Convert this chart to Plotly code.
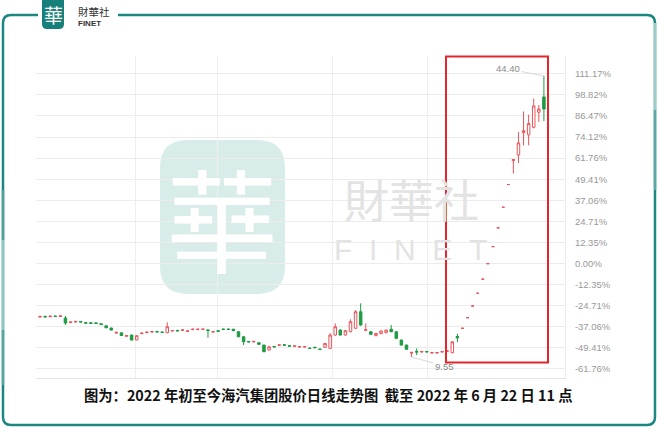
import plotly.graph_objects as go

# ---------------- data ----------------
day_index = list(range(100))
open_ = [14.51, 14.60, 14.55, 14.64, 14.58, 14.39, 13.82, 13.89, 13.97, 13.82,
         13.80, 13.79, 13.68, 13.42, 13.15, 12.52, 12.55, 12.12, 12.28, 11.68,
         12.45, 12.58, 12.65, 12.73, 12.66, 12.57, 12.78, 12.86, 12.86, 12.74,
         12.95, 12.95, 12.96, 12.92, 12.65, 12.82, 13.03, 13.03, 13.00, 12.69,
         12.07, 11.49, 11.43, 11.33, 11.04, 10.42, 10.87, 11.00, 11.08, 10.96,
         10.88, 10.79, 10.79, 10.67, 10.77, 10.55, 10.76, 10.63, 12.28, 12.90,
         12.28, 12.69, 13.12, 15.17, 12.86, 12.69, 12.20, 12.45, 12.57, 12.99,
         12.69, 11.66, 11.04, 10.05, 10.25, 10.17, 10.25, 10.05, 10.05, 10.17,
         10.26, 10.09, 12.10, 13.12, 14.43, 15.88, 17.46, 19.21, 21.13, 23.24,
         25.57, 28.12, 30.94, 33.90, 34.60, 37.37, 37.10, 38.04, 39.90, 41.80]
high = [14.62, 14.64, 14.66, 14.68, 14.70, 14.64, 13.94, 14.00, 14.02, 13.88,
        13.85, 13.84, 13.72, 13.48, 13.20, 12.66, 12.60, 12.26, 12.32, 12.24,
        12.56, 12.68, 12.75, 12.77, 12.70, 13.86, 12.88, 12.90, 12.96, 12.84,
        13.05, 13.05, 13.06, 12.98, 12.75, 12.86, 13.07, 13.07, 13.05, 12.75,
        12.12, 11.54, 11.53, 11.38, 11.08, 10.88, 10.91, 11.10, 11.12, 11.00,
        10.98, 10.89, 10.89, 10.71, 10.81, 10.59, 11.30, 12.53, 13.73, 13.00,
        12.88, 14.23, 15.38, 16.21, 13.73, 12.75, 12.55, 12.84, 12.95, 13.52,
        12.74, 11.71, 11.09, 10.17, 10.63, 10.29, 10.29, 10.15, 10.15, 10.27,
        10.36, 11.45, 12.45, 13.12, 14.43, 15.88, 17.46, 19.21, 21.13, 23.24,
        25.57, 28.12, 30.94, 34.03, 37.43, 40.00, 39.60, 41.60, 40.80, 44.40]
low = [14.46, 14.48, 14.50, 14.55, 14.54, 13.52, 13.78, 13.85, 13.86, 13.72,
       13.70, 13.68, 13.55, 13.14, 12.86, 12.48, 12.18, 12.08, 11.62, 11.64,
       12.40, 12.54, 12.61, 12.63, 12.56, 12.52, 12.74, 12.76, 12.82, 12.70,
       12.91, 12.91, 12.92, 11.95, 12.61, 12.72, 12.93, 12.93, 12.78, 12.02,
       11.04, 11.40, 11.39, 11.08, 10.18, 10.38, 10.77, 10.96, 10.98, 10.86,
       10.84, 10.75, 10.75, 10.57, 10.67, 10.45, 10.72, 10.60, 12.20, 12.22,
       12.22, 12.62, 13.05, 13.45, 12.82, 12.32, 12.15, 12.40, 12.52, 12.64,
       11.82, 10.98, 10.46, 9.55, 9.80, 10.13, 10.15, 10.01, 10.01, 10.13,
       10.22, 10.05, 11.40, 13.12, 14.43, 15.88, 17.46, 19.21, 21.13, 23.24,
       25.57, 28.12, 30.94, 32.30, 33.60, 35.80, 35.80, 37.90, 38.70, 38.80]
close = [14.59, 14.53, 14.62, 14.58, 14.66, 13.77, 13.90, 13.97, 13.90, 13.75,
         13.73, 13.71, 13.58, 13.18, 12.90, 12.62, 12.22, 12.22, 11.66, 12.20,
         12.52, 12.64, 12.71, 12.67, 12.60, 13.31, 12.84, 12.80, 12.92, 12.80,
         13.01, 13.01, 13.02, 12.84, 12.71, 12.76, 12.97, 12.97, 12.82, 12.07,
         11.45, 11.43, 11.49, 11.13, 10.21, 10.83, 10.81, 11.06, 11.02, 10.90,
         10.94, 10.85, 10.85, 10.61, 10.71, 10.49, 11.25, 12.28, 13.31, 12.28,
         12.82, 13.93, 15.17, 13.52, 12.94, 12.37, 12.49, 12.78, 12.90, 12.69,
         11.87, 11.04, 10.51, 10.13, 10.17, 10.25, 10.19, 10.11, 10.11, 10.23,
         10.32, 11.45, 11.93, 13.12, 14.43, 15.88, 17.46, 19.21, 21.13, 23.24,
         25.57, 28.12, 30.94, 34.03, 36.10, 37.62, 38.50, 40.68, 40.30, 40.30]
base_price = 21.15
pct_ticks = [111.17, 98.82, 86.47, 74.12, 61.76, 49.41, 37.06, 24.71, 12.35,
             0.00, -12.35, -24.71, -37.06, -49.41, -61.76]
pct_labels = [f"{p:.2f}%" for p in pct_ticks]
month_lines = [18.7, 34.8, 57.4, 76.2]
high_idx, high_val = 99, 44.40
low_idx, low_val = 73, 9.55
caption = "图为：2022 年初至今海汽集团股价日线走势图  截至 2022 年 6 月 22 日 11 点"

# ---------------- layout helpers (pixel -> paper) ----------------
W, H = 660, 437
PL, PR, PT, PB = 36, 565, 56, 378


def X(px):
    return (px - PL) / (PR - PL)


def Y(py):
    return (PB - py) / (PB - PT)


def P(px, py):
    return f"{X(px):.5f},{Y(py):.5f}"


def rrect(x0, y0, x1, y1, r):
    return (f"M{P(x0 + r, y0)} L{P(x1 - r, y0)} Q{P(x1, y0)} {P(x1, y0 + r)} "
            f"L{P(x1, y1 - r)} Q{P(x1, y1)} {P(x1 - r, y1)} L{P(x0 + r, y1)} "
            f"Q{P(x0, y1)} {P(x0, y1 - r)} L{P(x0, y0 + r)} Q{P(x0, y0)} {P(x0 + r, y0)} Z")


RED = "#e8555b"
GREEN = "#1f9a45"
TEAL = "#1c8680"

fig = go.Figure()
fig.add_trace(go.Candlestick(
    x=day_index, open=open_, high=high, low=low, close=close,
    increasing=dict(line=dict(color=RED, width=1), fillcolor="#ffffff"),
    decreasing=dict(line=dict(color=GREEN, width=1), fillcolor=GREEN),
    whiskerwidth=0, hoverinfo="skip", showlegend=False,
))

ymin = base_price + (base_price * 0.1235 / 21.07) * (263.5 - PB)
ymax = base_price + (base_price * 0.1235 / 21.07) * (263.5 - PT)
xmin = (PL - 40) / 5.09
xmax = (PR - 40) / 5.09

shapes = []
# watermark blob
shapes.append(dict(type="path", xref="paper", yref="paper", path=rrect(160, 140, 285, 294, 28),
                   fillcolor="#d8ecea", line=dict(width=0), layer="below"))
# header logo
shapes.append(dict(type="path", xref="paper", yref="paper", path=rrect(42, -4, 64, 29, 5),
                   fillcolor="#17807a", line=dict(width=0), layer="above"))
# frame
frame = (f"M{P(38, 15)} L{P(11, 15)} Q{P(3, 15)} {P(3, 23)} L{P(3, 417)} Q{P(3, 425)} {P(11, 425)} "
         f"L{P(647, 425)} Q{P(655, 425)} {P(655, 417)} L{P(655, 23)} Q{P(655, 15)} {P(647, 15)} L{P(118, 15)}")
shapes.append(dict(type="path", xref="paper", yref="paper", path=frame,
                   line=dict(color=TEAL, width=2.5), layer="above"))
# gradient imitation on side lines
for (xx, ya, yb, col) in [(3, 190, 240, "#4f9f9b"), (3, 240, 330, "#8fc6c2"), (3, 330, 385, "#58a5a1"),
                          (655, 23, 110, "#9ccbc8"), (655, 110, 190, "#5ea8a4")]:
    shapes.append(dict(type="line", xref="paper", yref="paper", x0=X(xx), x1=X(xx), y0=Y(ya), y1=Y(yb),
                       line=dict(color=col, width=2.5), layer="above"))
# red highlight box
shapes.append(dict(type="rect", xref="paper", yref="paper", x0=X(446), x1=X(548), y0=Y(362.5), y1=Y(56.5),
                   line=dict(color="#e3262b", width=2), fillcolor="rgba(0,0,0,0)", layer="above"))


def note(text, px, py, size, color, family="Noto Sans CJK TC", xanchor="center"):
    return dict(text=text, xref="paper", yref="paper", x=X(px), y=Y(py), showarrow=False,
                xanchor=xanchor, yanchor="middle", font=dict(family=family, size=size, color=color))


ann = []
# watermark texts
ann.append(note("華", 222, 216, 112, "#ffffff"))
ann.append(note("財華社", 411, 198, 45, "#e3e3e3"))
ann.append(note("F\u00a0\u00a0I\u00a0\u00a0N\u00a0\u00a0E\u00a0\u00a0T", 410, 249, 30, "#e3e3e3",
                family="Liberation Sans"))
# header
ann.append(note("華", 53, 14, 19, "#ffffff"))
ann.append(note("財華社", 76, 11.5, 10.5, "#333333", xanchor="left"))
ann.append(note("<b>FINET</b>", 76, 23, 8, "#333333", family="Liberation Sans", xanchor="left"))
# high / low labels
ann.append(dict(text=f"{high_val:.2f}", x=high_idx, y=high_val, xref="x", yref="y", ax=-36, ay=-7,
                showarrow=True, arrowhead=0, arrowwidth=0.8, arrowcolor="#cfcfcf",
                font=dict(family="Liberation Sans", size=9.5, color="#8a8a8a")))
ann.append(dict(text=f"{low_val:.2f}", x=low_idx, y=low_val, xref="x", yref="y", ax=33, ay=9,
                showarrow=True, arrowhead=0, arrowwidth=0.8, arrowcolor="#cfcfcf",
                font=dict(family="Liberation Sans", size=9.5, color="#8a8a8a")))
# caption
ann.append(note(f"<b>{caption}</b>", 328, 394, 14.3, "#111111", family="Noto Sans CJK SC"))

fig.update_layout(
    width=W, height=H,
    margin=dict(l=PL, r=W - PR, t=PT, b=H - PB, pad=0),
    paper_bgcolor="#ffffff", plot_bgcolor="#ffffff",
    shapes=shapes, annotations=ann,
    showlegend=False,
    xaxis=dict(range=[xmin, xmax], rangeslider=dict(visible=False), showticklabels=False,
               tickvals=month_lines, showgrid=True, gridcolor="#efefef", gridwidth=1,
               zeroline=False, showline=True, linecolor="#e4e4e4", ticks=""),
    yaxis=dict(range=[ymin, ymax], side="right", tickvals=[base_price * (1 + p / 100) for p in pct_ticks],
               ticktext=pct_labels, showgrid=True, gridcolor="#ececec", gridwidth=1, zeroline=False,
               showline=True, linecolor="#ececec", ticks="", ticklabelstandoff=7,
               tickfont=dict(family="Liberation Sans", size=9.5, color="#999999")),
)

fig.write_html("out.html", config={"displayModeBar": False},
               post_script="document.body.style.margin='0';document.body.style.overflow='hidden';")
